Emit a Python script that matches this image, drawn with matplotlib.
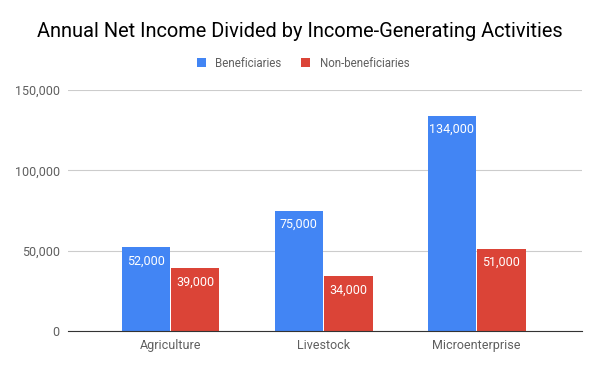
import matplotlib
matplotlib.use("Agg")
import matplotlib.pyplot as plt
import numpy as np
from matplotlib.ticker import FuncFormatter

categories = ["Agriculture", "Livestock", "Microenterprise"]
beneficiaries = [52000, 75000, 134000]
non_beneficiaries = [39000, 34000, 51000]
series_names = ["Beneficiaries", "Non-beneficiaries"]
yticks = [0, 50000, 100000, 150000]

plt.rcParams['font.family'] = ['Roboto', 'DejaVu Sans']

fig = plt.figure(figsize=(6, 3.71), dpi=100)
ax = fig.add_axes([0.1133, 0.1078, 0.857, 0.6496])

x = np.arange(len(categories))
w = 0.315
gap = 0.005
colors = ["#4285F4", "#DB4437"]
b1 = ax.bar(x - w/2 - gap, beneficiaries, w, color=colors[0], label=series_names[0], zorder=3)
b2 = ax.bar(x + w/2 + gap, non_beneficiaries, w, color=colors[1], label=series_names[1], zorder=3)

for bars, vals in ((b1, beneficiaries), (b2, non_beneficiaries)):
    for rect, v in zip(bars, vals):
        ax.annotate(f"{v:,}", (rect.get_x() + rect.get_width()/2, v),
                    xytext=(0, -5), textcoords="offset points",
                    ha="center", va="top", color="white", fontsize=9, zorder=4)

ax.set_ylim(0, 150000)
ax.set_xlim(-0.67, 2.69)
ax.set_yticks(yticks)
ax.yaxis.set_major_formatter(FuncFormatter(lambda v, p: f"{int(v):,}"))
ax.set_xticks(x)
ax.set_xticklabels(categories)
ax.grid(axis="y", color="#cccccc", linewidth=0.8, zorder=0)
for s in ["top", "right", "left"]:
    ax.spines[s].set_visible(False)
ax.spines["bottom"].set_color("#333333")
ax.spines["bottom"].set_zorder(5)
ax.tick_params(axis="both", length=0, labelsize=9, labelcolor="#5f5f5f")
ax.tick_params(axis="y", pad=6)
ax.tick_params(axis="x", pad=6)

fig.text(0.5, 0.915, "Annual Net Income Divided by Income-Generating Activities",
         ha="center", va="center", fontsize=14.4, color="#000000")
fig.legend(handles=[b1, b2], labels=series_names, loc="center", bbox_to_anchor=(0.505, 0.83),
           ncol=2, frameon=False, fontsize=8.3, labelcolor="#5f5f5f",
           handlelength=0.8, handleheight=0.8, columnspacing=1.7, handletextpad=0.8)

fig.savefig("out.png", dpi=100)
